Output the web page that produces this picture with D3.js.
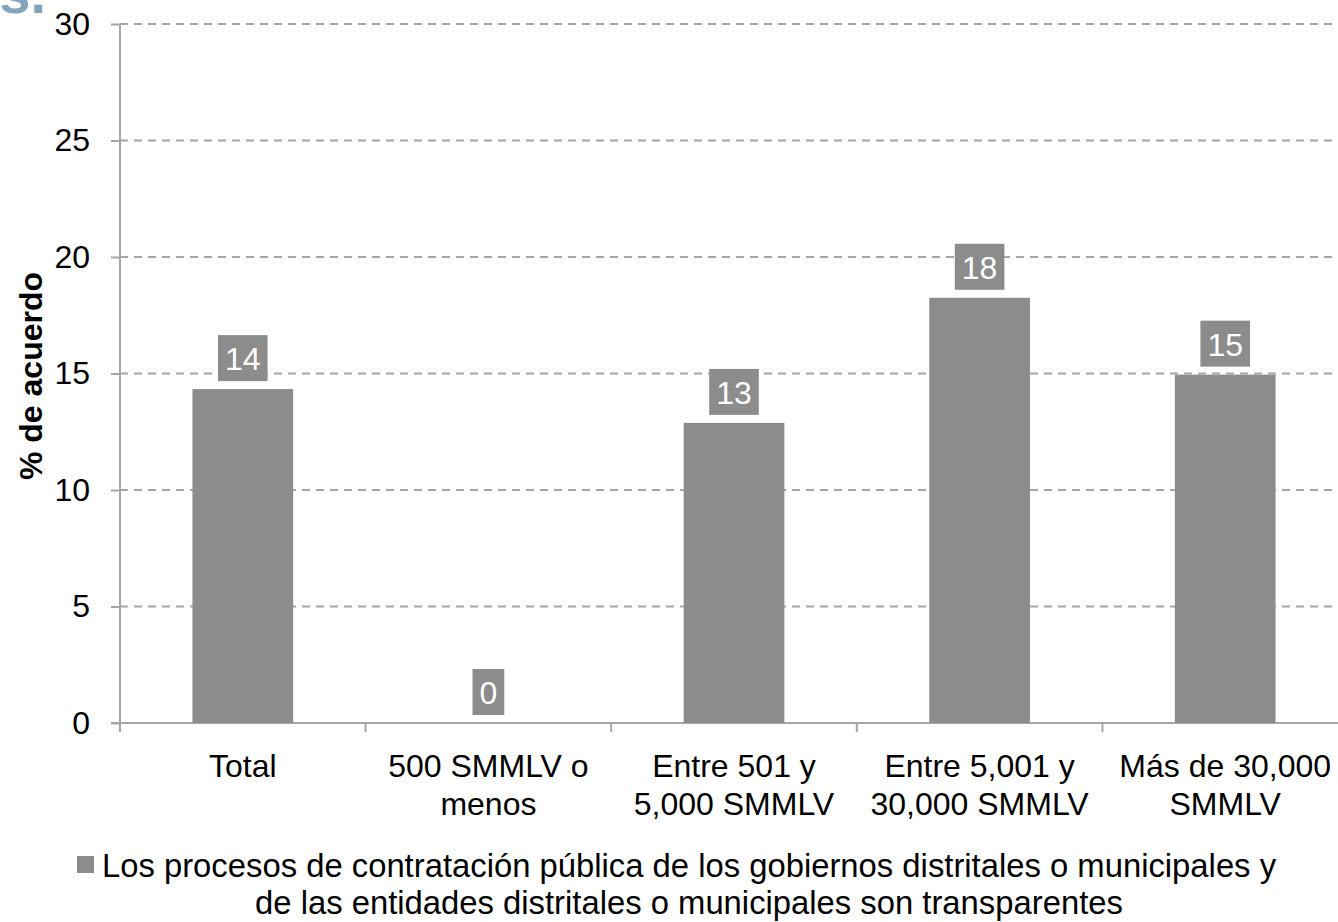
<!DOCTYPE html>
<html>
<head>
<meta charset="utf-8">
<script src="https://d3js.org/d3.v7.min.js"></script>
<style>
  body { margin: 0; background: #fff; }
  svg { display: block; font-family: "Liberation Sans", Arial, sans-serif; }
</style>
</head>
<body>
<svg width="1338" height="922"></svg>
<script>
var categories = [["Total"], ["500 SMMLV o", "menos"], ["Entre 501 y", "5,000 SMMLV"], ["Entre 5,001 y", "30,000 SMMLV"], ["Más de 30,000", "SMMLV"]];
var values = [14.33, 0, 12.88, 18.25, 14.95];
var labels = ["14", "0", "13", "18", "15"];
var yTicks = [0, 5, 10, 15, 20, 25, 30];
var legendLines = ["Los procesos de contratación pública de los gobiernos distritales o municipales y",
                   "de las entidades distritales o municipales son transparentes"];

var svg = d3.select("svg");
var plotLeft = 120, plotRight = 1348, plotTop = 24, plotBottom = 723;
var barColor = "#8c8c8c", gridColor = "#a6a6a6";

var x = d3.scaleBand().domain(d3.range(categories.length)).range([plotLeft, plotRight]).paddingInner(0.59).paddingOuter(0.295);
var y = d3.scaleLinear().domain([0, 30]).range([plotBottom, plotTop]);

// partial title from the slide, cut off at the top
svg.append("text").attr("x", 46).attr("y", 13).attr("text-anchor", "end")
  .attr("font-size", 56).attr("font-weight", "bold").attr("fill", "#84a4ba").text("s.");

// grid lines
svg.append("g").selectAll("line").data(yTicks.filter(function(d){ return d > 0; })).enter()
  .append("line")
  .attr("x1", plotLeft).attr("x2", 1338)
  .attr("y1", function(d){ return y(d); }).attr("y2", function(d){ return y(d); })
  .attr("stroke", gridColor).attr("stroke-width", 2).attr("stroke-dasharray", "8,6");

// y axis
var yAxis = svg.append("g").attr("transform", "translate(" + plotLeft + ",0)")
  .call(d3.axisLeft(y).tickValues(yTicks).tickSize(9).tickPadding(21));
yAxis.select(".domain").attr("stroke", gridColor).attr("stroke-width", 2).attr("d", "M0," + plotBottom + "V" + plotTop);
yAxis.selectAll(".tick line").attr("stroke", gridColor).attr("stroke-width", 2);
yAxis.selectAll("text").attr("font-size", 32).attr("fill", "#000").attr("font-family", "Liberation Sans, Arial, sans-serif");

// x axis
var xg = svg.append("g");
xg.append("line").attr("x1", plotLeft - 9).attr("x2", 1338).attr("y1", plotBottom).attr("y2", plotBottom)
  .attr("stroke", gridColor).attr("stroke-width", 2);
var step = x.step();
xg.selectAll("line.tk").data(d3.range(categories.length + 1)).enter().append("line")
  .attr("class", "tk")
  .attr("x1", function(i){ return plotLeft + i * step; }).attr("x2", function(i){ return plotLeft + i * step; })
  .attr("y1", plotBottom).attr("y2", plotBottom + 9)
  .attr("stroke", gridColor).attr("stroke-width", 2);

// category labels
var cl = svg.append("g").selectAll("text").data(categories).enter().append("text")
  .attr("text-anchor", "middle").attr("font-size", 32).attr("fill", "#000");
cl.each(function(lines, i) {
  var t = d3.select(this);
  lines.forEach(function(s, j) {
    t.append("tspan").attr("x", x(i) + x.bandwidth() / 2).attr("y", 777 + j * 38).text(s);
  });
});

// bars
svg.append("g").selectAll("rect").data(values).enter().append("rect")
  .attr("x", function(d, i){ return x(i); })
  .attr("y", function(d){ return y(d); })
  .attr("width", x.bandwidth())
  .attr("height", function(d){ return plotBottom - y(d); })
  .attr("fill", barColor);

// value labels
var vl = svg.append("g").selectAll("g").data(values).enter().append("g");
vl.each(function(d, i) {
  var g = d3.select(this);
  var cx = x(i) + x.bandwidth() / 2;
  var t = g.append("text").attr("x", cx).attr("y", y(d) - 19).attr("text-anchor", "middle")
    .attr("font-size", 32).attr("fill", "#fff").text(labels[i]);
  var w = t.node().getComputedTextLength() + 14;
  g.insert("rect", "text").attr("x", cx - w / 2).attr("y", y(d) - 54).attr("width", w).attr("height", 46)
    .attr("fill", barColor);
});

// y axis title
svg.append("text").attr("transform", "translate(42,376) rotate(-90)").attr("text-anchor", "middle")
  .attr("font-size", 32).attr("font-weight", "bold").attr("fill", "#000").text("% de acuerdo");

// legend
svg.append("rect").attr("x", 77).attr("y", 856).attr("width", 17).attr("height", 17).attr("fill", barColor);
svg.append("g").selectAll("text").data(legendLines).enter().append("text")
  .attr("x", 689).attr("y", function(d, i){ return 877 + i * 37; })
  .attr("text-anchor", "middle").attr("font-size", 32.8).attr("fill", "#000").text(function(d){ return d; });
</script>
</body>
</html>
